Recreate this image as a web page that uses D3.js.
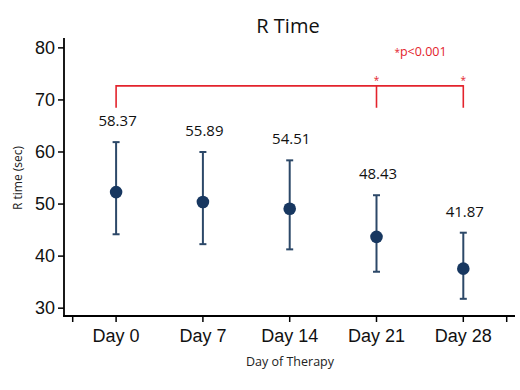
<!DOCTYPE html>
<html>
<head>
<meta charset="utf-8">
<script src="https://cdn.jsdelivr.net/npm/d3@7"></script>
<style>
  html, body { margin: 0; padding: 0; background: #fff; }
  svg { display: block; }
</style>
</head>
<body>
<svg id="chart" width="520" height="390"></svg>
<script>
// ---- data ----
const categories = ["Day 0", "Day 7", "Day 14", "Day 21", "Day 28"];
const means = [52.2, 50.3, 49.0, 43.6, 37.5];
const upper = [61.8, 59.9, 58.3, 51.6, 44.4];
const lower = [44.1, 42.2, 41.2, 36.9, 31.7];
const valueLabels = ["58.37", "55.89", "54.51", "48.43", "41.87"];
const yTicks = [30, 40, 50, 60, 70, 80];
const sigCategories = ["Day 21", "Day 28"];
const sigText = "p<0.001";

// ---- setup ----
const svg = d3.select("#chart");
const sansUI = "'Open Sans', 'Noto Sans', sans-serif";
const sansAx = "'Liberation Sans', Arial, sans-serif";
const red = "#e3232c";
const navy = "#173760";
const barCol = "#2c4868";

const axisX0 = 64, axisY0 = 316;
const x = d3.scaleBand().domain(categories).range([72.7, 506.7]).padding(0);
const cx = d => x(d) + x.bandwidth() / 2;
const y = d3.scaleLinear().domain([28.4, 81.8]).range([axisY0, 38]);

// title
svg.append("text").attr("x", 288).attr("y", 33).attr("text-anchor", "middle")
  .attr("font-family", sansUI).attr("font-size", 20).attr("fill", "#111").text("R Time");

// y axis
const yAxis = svg.append("g").attr("transform", `translate(${axisX0},0)`)
  .call(d3.axisLeft(y).tickValues(yTicks).tickSize(6).tickPadding(3).tickSizeOuter(0));
yAxis.select(".domain").remove();
yAxis.selectAll(".tick line").attr("stroke", "#000").attr("stroke-width", 1.5);
yAxis.selectAll(".tick text").attr("font-family", sansAx).attr("font-size", 18).attr("fill", "#111");
svg.append("line").attr("x1", axisX0).attr("x2", axisX0).attr("y1", 38).attr("y2", axisY0 + 0.75)
  .attr("stroke", "#000").attr("stroke-width", 1.8);

// x axis
const xAxis = svg.append("g").attr("transform", `translate(0,${axisY0})`)
  .call(d3.axisBottom(x).tickSize(6).tickPadding(7).tickSizeOuter(0));
xAxis.select(".domain").remove();
xAxis.selectAll(".tick line").attr("stroke", "#000").attr("stroke-width", 1.5);
xAxis.selectAll(".tick text").attr("font-family", sansAx).attr("font-size", 18).attr("fill", "#111");
x.range().forEach(r => {
  xAxis.append("line").attr("x1", r).attr("x2", r).attr("y1", 0).attr("y2", 6)
    .attr("stroke", "#000").attr("stroke-width", 1.5);
});
svg.append("line").attr("x1", axisX0 - 0.9).attr("x2", 515).attr("y1", axisY0).attr("y2", axisY0)
  .attr("stroke", "#000").attr("stroke-width", 1.8);

// axis titles
svg.append("text").attr("x", 290).attr("y", 366).attr("text-anchor", "middle")
  .attr("font-family", sansUI).attr("font-size", 12.5).attr("fill", "#222").text("Day of Therapy");
svg.append("text").attr("transform", "translate(21.5,178) rotate(-90)").attr("text-anchor", "middle")
  .attr("font-family", sansUI).attr("font-size", 12).attr("fill", "#222").text("R time (sec)");

// error bars
const g = svg.append("g");
categories.forEach((c, i) => {
  const px = cx(c);
  g.append("line").attr("x1", px).attr("x2", px).attr("y1", y(upper[i])).attr("y2", y(lower[i]))
    .attr("stroke", barCol).attr("stroke-width", 2);
  [upper[i], lower[i]].forEach(v => {
    g.append("line").attr("x1", px - 3.5).attr("x2", px + 3.5).attr("y1", y(v)).attr("y2", y(v))
      .attr("stroke", barCol).attr("stroke-width", 2);
  });
  g.append("circle").attr("cx", px).attr("cy", y(means[i])).attr("r", 6.3).attr("fill", navy);
  g.append("text").attr("x", px + 1.5).attr("y", y(upper[i]) - 16).attr("text-anchor", "middle")
    .attr("font-family", sansUI).attr("font-size", 15).attr("fill", "#111").text(valueLabels[i]);
});

// significance bracket
const bTop = y(72.6), bBot = y(68.4);
const first = cx(categories[0]), last = cx(categories[categories.length - 1]);
svg.append("line").attr("x1", first).attr("x2", last).attr("y1", bTop).attr("y2", bTop)
  .attr("stroke", red).attr("stroke-width", 1.6);
[categories[0], ...sigCategories].forEach(c => {
  svg.append("line").attr("x1", cx(c)).attr("x2", cx(c)).attr("y1", bTop - 0.8).attr("y2", bBot)
    .attr("stroke", red).attr("stroke-width", 1.6);
});
sigCategories.forEach(c => {
  svg.append("text").attr("x", cx(c)).attr("y", bTop - 2).attr("text-anchor", "middle")
    .attr("font-family", sansUI).attr("font-size", 10).attr("fill", red).text("*");
});
const sig = svg.append("text").attr("x", 420.5).attr("y", 56).attr("text-anchor", "middle")
  .attr("font-family", sansUI).attr("font-size", 12.5).attr("fill", red);
sig.append("tspan").attr("font-size", 10).text("*");
sig.append("tspan").text(sigText);
</script>
</body>
</html>
